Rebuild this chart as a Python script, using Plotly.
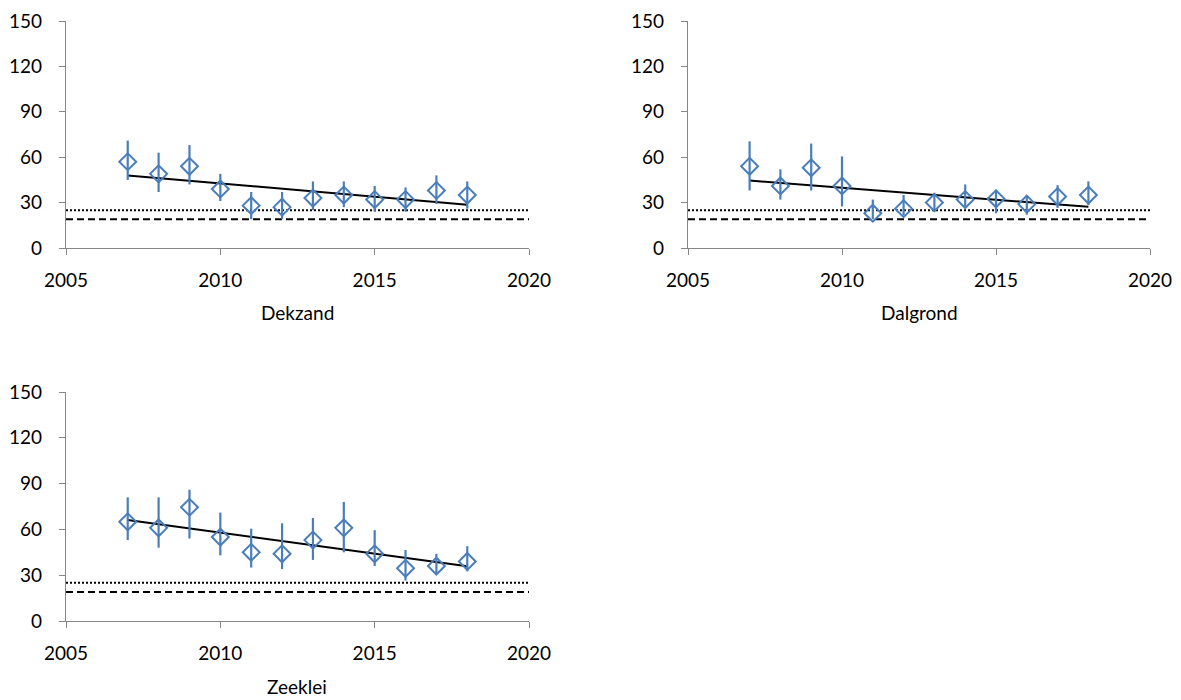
import numpy as np
import plotly.graph_objects as go

# Survey years
years = [2007, 2008, 2009, 2010, 2011, 2012, 2013, 2014, 2015, 2016, 2017, 2018]

# Dekzand: mean with lower / upper bound of the interval
dekzand_mean = [57, 49, 54, 39, 28, 27, 33, 35, 32, 32, 38, 35]
dekzand_low = [45, 37, 42, 31, 19, 19, 25, 27, 24, 24, 29, 26]
dekzand_high = [71, 63, 68, 49, 37, 37, 44, 44, 41, 40, 48, 44]

# Dalgrond
dalgrond_mean = [54, 41, 53, 41, 23, 26, 30, 32, 32.5, 29, 34, 35]
dalgrond_low = [38, 32, 38, 27.5, 19, 21.5, 24, 27.5, 23, 22, 26.5, 28.5]
dalgrond_high = [70.5, 52, 69, 60.5, 32, 35, 36.5, 42, 38.5, 34, 41.5, 44]

# Zeeklei
zeeklei_mean = [65, 61, 74.5, 55, 45, 44, 53, 61, 44, 34.5, 36, 39]
zeeklei_low = [53, 48, 54, 43, 35, 34, 40, 45, 36, 26.5, 31.5, 32.5]
zeeklei_high = [81, 81, 86, 71, 60.5, 64, 67.5, 78, 59.5, 46.5, 44, 49]

# Horizontal reference levels
ref_dotted = 25
ref_dashed = 19

x_range = [2005, 2020]
x_ticks = [2005, 2010, 2015, 2020]
y_ticks = [0, 30, 60, 90, 120, 150]

panels = [
    ("Dekzand", dekzand_mean, dekzand_low, dekzand_high),
    ("Dalgrond", dalgrond_mean, dalgrond_low, dalgrond_high),
    ("Zeeklei", zeeklei_mean, zeeklei_low, zeeklei_high),
]

# Plot-area boxes for the three panels, in pixels
W, H = 1181, 700
domains = [
    ((66, 529), (21, 248)),
    ((688, 1150), (21, 248)),
    ((66, 529), (392, 621)),
]

BLUE = "#4A7EBB"
AXIS_GREY = "#868686"
FONT = "Lato, Calibri, sans-serif"
FSIZE = 19

fig = go.Figure()
layout = {}

for i, (name, mean, low, high) in enumerate(panels):
    sfx = "" if i == 0 else str(i + 1)
    xa, ya = "x" + sfx, "y" + sfx
    mean_a = np.array(mean, dtype=float)
    up = np.array(high) - mean_a
    dn = mean_a - np.array(low)

    # reference levels across the full x range
    fig.add_trace(go.Scatter(x=x_range, y=[ref_dotted] * 2, mode="lines",
                             line=dict(color="black", width=2, dash="2px,2px"),
                             xaxis=xa, yaxis=ya, showlegend=False, hoverinfo="skip"))
    fig.add_trace(go.Scatter(x=x_range, y=[ref_dashed] * 2, mode="lines",
                             line=dict(color="black", width=1.8, dash="7px,4px"),
                             xaxis=xa, yaxis=ya, showlegend=False, hoverinfo="skip"))

    # linear trend (least squares) over the observed years
    slope, icpt = np.polyfit(years, mean_a, 1)
    ends = [years[0], years[-1]]
    fig.add_trace(go.Scatter(x=ends, y=[slope * e + icpt for e in ends], mode="lines",
                             line=dict(color="black", width=2),
                             xaxis=xa, yaxis=ya, showlegend=False, hoverinfo="skip"))

    # means with asymmetric intervals
    fig.add_trace(go.Scatter(
        x=years, y=mean, mode="markers",
        marker=dict(symbol="diamond-open", size=13, color=BLUE, line=dict(width=2, color=BLUE)),
        error_y=dict(type="data", symmetric=False, array=up, arrayminus=dn,
                     color=BLUE, thickness=2.2, width=0),
        xaxis=xa, yaxis=ya, showlegend=False, name=name))

    (x0, x1), (y0, y1) = domains[i]
    common = dict(showline=True, linecolor=AXIS_GREY, linewidth=1.3, ticks="outside",
                  tickcolor=AXIS_GREY, ticklen=6, tickwidth=1.3, showgrid=False,
                  zeroline=False, automargin=False,
                  tickfont=dict(family=FONT, size=FSIZE, color="black"))
    layout["xaxis" + sfx] = dict(common, domain=[x0 / W, x1 / W], range=x_range,
                                 tickvals=x_ticks, anchor=ya, ticklabelstandoff=9)
    layout["yaxis" + sfx] = dict(common, domain=[1 - y1 / H, 1 - y0 / H], range=[0, 150],
                                 tickvals=y_ticks, anchor=xa, ticklabelstandoff=13)

    fig.add_annotation(text=name, x=(x0 + x1) / 2 / W, y=1 - (y1 + 65) / H,
                       xref="paper", yref="paper", showarrow=False,
                       font=dict(family=FONT, size=FSIZE, color="black"),
                       xanchor="center", yanchor="middle")

fig.update_layout(**layout)
fig.update_layout(template="none", width=W, height=H,
                  margin=dict(l=0, r=0, t=0, b=0, autoexpand=False),
                  plot_bgcolor="white", paper_bgcolor="white",
                  font=dict(family=FONT, size=FSIZE, color="black"))

fig.write_html("out.html", config={"displayModeBar": False})
